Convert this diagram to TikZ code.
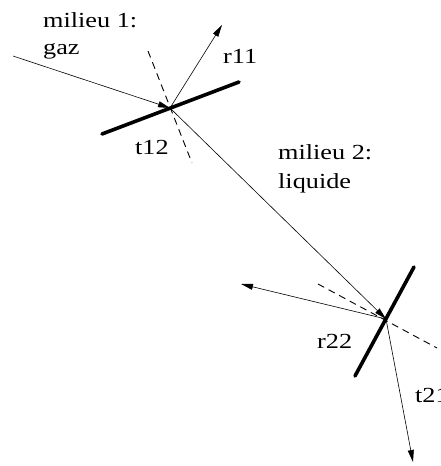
\documentclass[tikz,border=0pt]{standalone}
\usepackage{fontspec}
\setmainfont[FakeStretch=1.22]{Liberation Serif}
\usetikzlibrary{arrows.meta}
\begin{document}
\begin{tikzpicture}[x=1pt,y=-1pt,
  ray/.style={line width=0.6pt},
  arr/.style={ray,-{Triangle[length=12pt,width=6pt]}},
  iface/.style={line width=3.6pt,line cap=round},
  normal/.style={line width=0.9pt,dash pattern=on 7pt off 5pt},
  lbl/.style={anchor=base west,inner sep=0pt,font=\fontsize{21.5}{27}\selectfont}]
\useasboundingbox (0,0) rectangle (441,466);
% points
\coordinate (S) at (13,56);
\coordinate (P1) at (170,108);
\coordinate (A1) at (102,134);
\coordinate (B1) at (239,82);
\coordinate (N1a) at (148,51);
\coordinate (N1b) at (192,163);
\coordinate (R11) at (222,25);
\coordinate (P2) at (386,319);
\coordinate (A2) at (414,267);
\coordinate (B2) at (355,376);
\coordinate (N2a) at (318,284);
\coordinate (N2b) at (437,348);
\coordinate (R22) at (241,284);
\coordinate (T21) at (413,462);
% interfaces
\draw[iface] (A1) -- (B1);
\draw[iface] (A2) -- (B2);
% normals
\draw[normal] (N1a) -- (N1b);
\draw[normal] (N2a) -- (N2b);
% rays
\draw[arr] (S) -- (P1);
\draw[arr] (P1) -- (R11);
\draw[arr] (P1) -- (P2);
\draw[arr] (P2) -- (R22);
\draw[arr] (P2) -- (T21);
% labels
\node[lbl] (m1) at (43,27) {milieu 1:};
\node[lbl] (g) at (43,54) {gaz};
\node[lbl] (r11) at (223,63) {r11};
\node[lbl] (t12) at (135,154) {t12};
\node[lbl] (m2) at (278,159) {milieu 2:};
\node[lbl] (liq) at (278,188) {liquide};
\node[lbl] (r22) at (317,348) {r22};
\node[lbl] (t21) at (415,402) {t21};
\end{tikzpicture}
\end{document}
